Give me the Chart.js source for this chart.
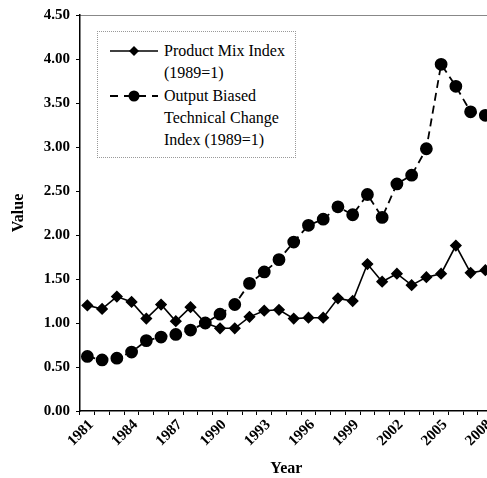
<!DOCTYPE html>
<html>
<head>
<meta charset="utf-8">
<script src="https://cdn.jsdelivr.net/npm/chart.js@4/dist/chart.umd.min.js"></script>
<style>
  html, body { margin: 0; padding: 0; background: #fff; overflow: hidden; width: 487px; height: 478px; }
  #wrap { position: relative; width: 500px; height: 478px; }
  #legend { position: absolute; left: 97px; top: 31px; width: 197px; height: 125px; border: 1px dotted #999; background: #fff;
            font-family: "Liberation Serif", "Times New Roman", serif; font-size: 16px; color: #000; }
  #legend .txt { position: absolute; left: 66px; line-height: 22px; white-space: nowrap; }
  #legend svg { position: absolute; left: 12px; }
</style>
</head>
<body>
<div id="wrap">
  <canvas id="c" width="500" height="478"></canvas>
  <div id="legend">
    <svg style="top:12px" width="48" height="14"><line x1="0" y1="7" x2="48" y2="7" stroke="#000" stroke-width="1.6"/><polygon points="24,2 29,7 24,12 19,7" fill="#000"/></svg>
    <div class="txt" style="top:8px">Product Mix Index<br>(1989=1)</div>
    <svg style="top:56px" width="48" height="16"><line x1="0" y1="8" x2="48" y2="8" stroke="#000" stroke-width="1.8" stroke-dasharray="8,6" stroke-dashoffset="0"/><circle cx="24" cy="8" r="5.5" fill="#000"/></svg>
    <div class="txt" style="top:53px">Output Biased<br>Technical Change<br>Index (1989=1)</div>
  </div>
</div>
<script>
const years = ['1981','1982','1983','1984','1985','1986','1987','1988','1989','1990','1991','1992','1993','1994','1995','1996','1997','1998','1999','2000','2001','2002','2003','2004','2005','2006','2007','2008'];
const productMix = [1.20,1.16,1.30,1.24,1.05,1.21,1.02,1.18,1.00,0.94,0.94,1.07,1.14,1.15,1.05,1.06,1.06,1.28,1.25,1.67,1.47,1.56,1.43,1.52,1.56,1.88,1.57,1.60];
const outputBiased = [0.62,0.58,0.60,0.67,0.80,0.84,0.87,0.92,1.00,1.10,1.21,1.45,1.58,1.72,1.92,2.11,2.18,2.32,2.23,2.46,2.20,2.58,2.68,2.98,3.94,3.69,3.40,3.36];
const labeledYears = ['1981','1984','1987','1990','1993','1996','1999','2002','2005','2008'];

const serif = '"Liberation Serif", "Times New Roman", serif';

new Chart(document.getElementById('c'), {
  type: 'line',
  data: {
    labels: years,
    datasets: [
      {
        label: 'Product Mix Index (1989=1)',
        data: productMix,
        borderColor: '#000', backgroundColor: '#000',
        borderWidth: 1.6, pointStyle: 'rectRot', pointRadius: 5,
        tension: 0, fill: false
      },
      {
        label: 'Output Biased Technical Change Index (1989=1)',
        data: outputBiased,
        borderColor: '#000', backgroundColor: '#000',
        borderWidth: 1.8, borderDash: [8, 5], pointStyle: 'circle', pointRadius: 5.5,
        tension: 0, fill: false
      }
    ]
  },
  options: {
    responsive: false,
    animation: false,
    layout: { padding: { top: 14, right: 7, left: 0, bottom: 0 } },
    plugins: { legend: { display: false }, tooltip: { enabled: false } },
    scales: {
      x: {
        type: 'category',
        offset: true,
        afterFit: (s) => { s.height = 67; },
        grid: { display: true, offset: true, drawOnChartArea: false, drawTicks: true, tickLength: 4, color: '#000', lineWidth: 1 },
        border: { display: true, color: '#000', width: 1.5 },
        ticks: {
          autoSkip: false, maxRotation: 45, minRotation: 45, padding: 1, labelOffset: 4,
          color: '#000', font: { family: serif, size: 15, weight: 'bold' },
          callback: function(v, i) { const l = years[i]; return labeledYears.includes(l) ? l : ''; }
        },
        title: { display: true, text: 'Year', color: '#000', font: { family: serif, size: 16, weight: 'bold' }, padding: { top: 0, bottom: 0 } }
      },
      xTop: {
        type: 'category', position: 'top', labels: years, offset: true,
        afterFit: (s) => { s.height = 0; },
        grid: { display: false },
        ticks: { display: false },
        border: { display: true, color: '#888', width: 1, dash: [1, 1] }
      },
      y: {
        min: 0, max: 4.5,
        afterFit: (s) => { s.width = 80; },
        grid: { display: true, drawOnChartArea: false, drawTicks: true, tickLength: 4, color: '#000' },
        border: { display: true, color: '#000', width: 1.5 },
        ticks: {
          stepSize: 0.5, padding: 6, color: '#000',
          font: { family: serif, size: 15, weight: 'bold' },
          callback: (v) => Number(v).toFixed(2)
        },
        title: { display: true, text: 'Value', color: '#000', font: { family: serif, size: 16, weight: 'bold' }, padding: { top: 9, bottom: 0 } }
      }
    }
  }
});
</script>
</body>
</html>
